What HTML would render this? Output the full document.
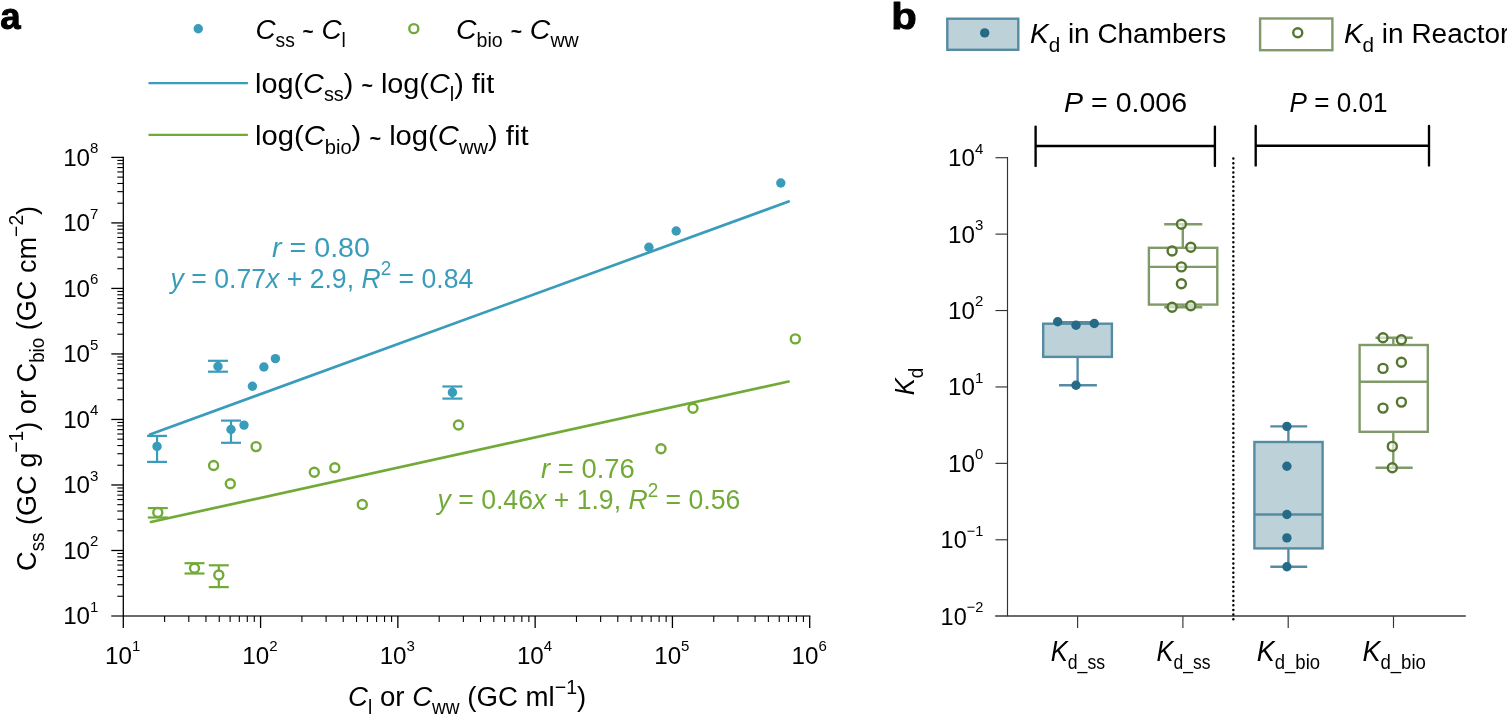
<!DOCTYPE html>
<html lang="en">
<head>
<meta charset="utf-8">
<title>Figure: concentration correlations and Kd box plots</title>
<style>
html,body{margin:0;padding:0;background:#fff;}
body{width:1507px;height:715px;overflow:hidden;}
svg{display:block;font-family:'Liberation Sans', sans-serif;}
</style>
</head>
<body>
<svg width="1507" height="715" viewBox="0 0 1507 715" role="img" aria-label="Figure panels a and b">
<!-- panel a axes -->
<line x1="111.30" y1="616.00" x2="810.35" y2="616.00" stroke="#6b6b6b" stroke-width="1.80"/>
<line x1="123.30" y1="156.75" x2="123.30" y2="628.00" stroke="#000" stroke-width="1.30"/>
<line x1="117.30" y1="596.28" x2="123.30" y2="596.28" stroke="#000" stroke-width="1.10"/>
<line x1="117.30" y1="584.74" x2="123.30" y2="584.74" stroke="#000" stroke-width="1.10"/>
<line x1="117.30" y1="576.56" x2="123.30" y2="576.56" stroke="#000" stroke-width="1.10"/>
<line x1="117.30" y1="570.21" x2="123.30" y2="570.21" stroke="#000" stroke-width="1.10"/>
<line x1="117.30" y1="565.02" x2="123.30" y2="565.02" stroke="#000" stroke-width="1.10"/>
<line x1="117.30" y1="560.63" x2="123.30" y2="560.63" stroke="#000" stroke-width="1.10"/>
<line x1="117.30" y1="556.83" x2="123.30" y2="556.83" stroke="#000" stroke-width="1.10"/>
<line x1="117.30" y1="553.48" x2="123.30" y2="553.48" stroke="#000" stroke-width="1.10"/>
<line x1="111.30" y1="550.49" x2="123.30" y2="550.49" stroke="#000" stroke-width="1.30"/>
<line x1="117.30" y1="530.76" x2="123.30" y2="530.76" stroke="#000" stroke-width="1.10"/>
<line x1="117.30" y1="519.23" x2="123.30" y2="519.23" stroke="#000" stroke-width="1.10"/>
<line x1="117.30" y1="511.04" x2="123.30" y2="511.04" stroke="#000" stroke-width="1.10"/>
<line x1="117.30" y1="504.69" x2="123.30" y2="504.69" stroke="#000" stroke-width="1.10"/>
<line x1="117.30" y1="499.51" x2="123.30" y2="499.51" stroke="#000" stroke-width="1.10"/>
<line x1="117.30" y1="495.12" x2="123.30" y2="495.12" stroke="#000" stroke-width="1.10"/>
<line x1="117.30" y1="491.32" x2="123.30" y2="491.32" stroke="#000" stroke-width="1.10"/>
<line x1="117.30" y1="487.97" x2="123.30" y2="487.97" stroke="#000" stroke-width="1.10"/>
<line x1="111.30" y1="484.97" x2="123.30" y2="484.97" stroke="#000" stroke-width="1.30"/>
<line x1="117.30" y1="465.25" x2="123.30" y2="465.25" stroke="#000" stroke-width="1.10"/>
<line x1="117.30" y1="453.71" x2="123.30" y2="453.71" stroke="#000" stroke-width="1.10"/>
<line x1="117.30" y1="445.53" x2="123.30" y2="445.53" stroke="#000" stroke-width="1.10"/>
<line x1="117.30" y1="439.18" x2="123.30" y2="439.18" stroke="#000" stroke-width="1.10"/>
<line x1="117.30" y1="433.99" x2="123.30" y2="433.99" stroke="#000" stroke-width="1.10"/>
<line x1="117.30" y1="429.61" x2="123.30" y2="429.61" stroke="#000" stroke-width="1.10"/>
<line x1="117.30" y1="425.81" x2="123.30" y2="425.81" stroke="#000" stroke-width="1.10"/>
<line x1="117.30" y1="422.45" x2="123.30" y2="422.45" stroke="#000" stroke-width="1.10"/>
<line x1="111.30" y1="419.46" x2="123.30" y2="419.46" stroke="#000" stroke-width="1.30"/>
<line x1="117.30" y1="399.74" x2="123.30" y2="399.74" stroke="#000" stroke-width="1.10"/>
<line x1="117.30" y1="388.20" x2="123.30" y2="388.20" stroke="#000" stroke-width="1.10"/>
<line x1="117.30" y1="380.01" x2="123.30" y2="380.01" stroke="#000" stroke-width="1.10"/>
<line x1="117.30" y1="373.66" x2="123.30" y2="373.66" stroke="#000" stroke-width="1.10"/>
<line x1="117.30" y1="368.48" x2="123.30" y2="368.48" stroke="#000" stroke-width="1.10"/>
<line x1="117.30" y1="364.09" x2="123.30" y2="364.09" stroke="#000" stroke-width="1.10"/>
<line x1="117.30" y1="360.29" x2="123.30" y2="360.29" stroke="#000" stroke-width="1.10"/>
<line x1="117.30" y1="356.94" x2="123.30" y2="356.94" stroke="#000" stroke-width="1.10"/>
<line x1="111.30" y1="353.94" x2="123.30" y2="353.94" stroke="#000" stroke-width="1.30"/>
<line x1="117.30" y1="334.22" x2="123.30" y2="334.22" stroke="#000" stroke-width="1.10"/>
<line x1="117.30" y1="322.68" x2="123.30" y2="322.68" stroke="#000" stroke-width="1.10"/>
<line x1="117.30" y1="314.50" x2="123.30" y2="314.50" stroke="#000" stroke-width="1.10"/>
<line x1="117.30" y1="308.15" x2="123.30" y2="308.15" stroke="#000" stroke-width="1.10"/>
<line x1="117.30" y1="302.96" x2="123.30" y2="302.96" stroke="#000" stroke-width="1.10"/>
<line x1="117.30" y1="298.58" x2="123.30" y2="298.58" stroke="#000" stroke-width="1.10"/>
<line x1="117.30" y1="294.78" x2="123.30" y2="294.78" stroke="#000" stroke-width="1.10"/>
<line x1="117.30" y1="291.43" x2="123.30" y2="291.43" stroke="#000" stroke-width="1.10"/>
<line x1="111.30" y1="288.43" x2="123.30" y2="288.43" stroke="#000" stroke-width="1.30"/>
<line x1="117.30" y1="268.71" x2="123.30" y2="268.71" stroke="#000" stroke-width="1.10"/>
<line x1="117.30" y1="257.17" x2="123.30" y2="257.17" stroke="#000" stroke-width="1.10"/>
<line x1="117.30" y1="248.99" x2="123.30" y2="248.99" stroke="#000" stroke-width="1.10"/>
<line x1="117.30" y1="242.64" x2="123.30" y2="242.64" stroke="#000" stroke-width="1.10"/>
<line x1="117.30" y1="237.45" x2="123.30" y2="237.45" stroke="#000" stroke-width="1.10"/>
<line x1="117.30" y1="233.06" x2="123.30" y2="233.06" stroke="#000" stroke-width="1.10"/>
<line x1="117.30" y1="229.26" x2="123.30" y2="229.26" stroke="#000" stroke-width="1.10"/>
<line x1="117.30" y1="225.91" x2="123.30" y2="225.91" stroke="#000" stroke-width="1.10"/>
<line x1="111.30" y1="222.91" x2="123.30" y2="222.91" stroke="#000" stroke-width="1.30"/>
<line x1="117.30" y1="203.19" x2="123.30" y2="203.19" stroke="#000" stroke-width="1.10"/>
<line x1="117.30" y1="191.66" x2="123.30" y2="191.66" stroke="#000" stroke-width="1.10"/>
<line x1="117.30" y1="183.47" x2="123.30" y2="183.47" stroke="#000" stroke-width="1.10"/>
<line x1="117.30" y1="177.12" x2="123.30" y2="177.12" stroke="#000" stroke-width="1.10"/>
<line x1="117.30" y1="171.93" x2="123.30" y2="171.93" stroke="#000" stroke-width="1.10"/>
<line x1="117.30" y1="167.55" x2="123.30" y2="167.55" stroke="#000" stroke-width="1.10"/>
<line x1="117.30" y1="163.75" x2="123.30" y2="163.75" stroke="#000" stroke-width="1.10"/>
<line x1="117.30" y1="160.40" x2="123.30" y2="160.40" stroke="#000" stroke-width="1.10"/>
<line x1="111.30" y1="157.40" x2="123.30" y2="157.40" stroke="#000" stroke-width="1.30"/>
<line x1="164.63" y1="616.00" x2="164.63" y2="622.00" stroke="#000" stroke-width="1.10"/>
<line x1="188.80" y1="616.00" x2="188.80" y2="622.00" stroke="#000" stroke-width="1.10"/>
<line x1="205.95" y1="616.00" x2="205.95" y2="622.00" stroke="#000" stroke-width="1.10"/>
<line x1="219.25" y1="616.00" x2="219.25" y2="622.00" stroke="#000" stroke-width="1.10"/>
<line x1="230.12" y1="616.00" x2="230.12" y2="622.00" stroke="#000" stroke-width="1.10"/>
<line x1="239.32" y1="616.00" x2="239.32" y2="622.00" stroke="#000" stroke-width="1.10"/>
<line x1="247.28" y1="616.00" x2="247.28" y2="622.00" stroke="#000" stroke-width="1.10"/>
<line x1="254.30" y1="616.00" x2="254.30" y2="622.00" stroke="#000" stroke-width="1.10"/>
<line x1="260.58" y1="616.00" x2="260.58" y2="628.00" stroke="#000" stroke-width="1.30"/>
<line x1="301.91" y1="616.00" x2="301.91" y2="622.00" stroke="#000" stroke-width="1.10"/>
<line x1="326.08" y1="616.00" x2="326.08" y2="622.00" stroke="#000" stroke-width="1.10"/>
<line x1="343.23" y1="616.00" x2="343.23" y2="622.00" stroke="#000" stroke-width="1.10"/>
<line x1="356.53" y1="616.00" x2="356.53" y2="622.00" stroke="#000" stroke-width="1.10"/>
<line x1="367.40" y1="616.00" x2="367.40" y2="622.00" stroke="#000" stroke-width="1.10"/>
<line x1="376.60" y1="616.00" x2="376.60" y2="622.00" stroke="#000" stroke-width="1.10"/>
<line x1="384.56" y1="616.00" x2="384.56" y2="622.00" stroke="#000" stroke-width="1.10"/>
<line x1="391.58" y1="616.00" x2="391.58" y2="622.00" stroke="#000" stroke-width="1.10"/>
<line x1="397.86" y1="616.00" x2="397.86" y2="628.00" stroke="#000" stroke-width="1.30"/>
<line x1="439.19" y1="616.00" x2="439.19" y2="622.00" stroke="#000" stroke-width="1.10"/>
<line x1="463.36" y1="616.00" x2="463.36" y2="622.00" stroke="#000" stroke-width="1.10"/>
<line x1="480.51" y1="616.00" x2="480.51" y2="622.00" stroke="#000" stroke-width="1.10"/>
<line x1="493.81" y1="616.00" x2="493.81" y2="622.00" stroke="#000" stroke-width="1.10"/>
<line x1="504.68" y1="616.00" x2="504.68" y2="622.00" stroke="#000" stroke-width="1.10"/>
<line x1="513.88" y1="616.00" x2="513.88" y2="622.00" stroke="#000" stroke-width="1.10"/>
<line x1="521.84" y1="616.00" x2="521.84" y2="622.00" stroke="#000" stroke-width="1.10"/>
<line x1="528.86" y1="616.00" x2="528.86" y2="622.00" stroke="#000" stroke-width="1.10"/>
<line x1="535.14" y1="616.00" x2="535.14" y2="628.00" stroke="#000" stroke-width="1.30"/>
<line x1="576.47" y1="616.00" x2="576.47" y2="622.00" stroke="#000" stroke-width="1.10"/>
<line x1="600.64" y1="616.00" x2="600.64" y2="622.00" stroke="#000" stroke-width="1.10"/>
<line x1="617.79" y1="616.00" x2="617.79" y2="622.00" stroke="#000" stroke-width="1.10"/>
<line x1="631.09" y1="616.00" x2="631.09" y2="622.00" stroke="#000" stroke-width="1.10"/>
<line x1="641.96" y1="616.00" x2="641.96" y2="622.00" stroke="#000" stroke-width="1.10"/>
<line x1="651.16" y1="616.00" x2="651.16" y2="622.00" stroke="#000" stroke-width="1.10"/>
<line x1="659.12" y1="616.00" x2="659.12" y2="622.00" stroke="#000" stroke-width="1.10"/>
<line x1="666.14" y1="616.00" x2="666.14" y2="622.00" stroke="#000" stroke-width="1.10"/>
<line x1="672.42" y1="616.00" x2="672.42" y2="628.00" stroke="#000" stroke-width="1.30"/>
<line x1="713.75" y1="616.00" x2="713.75" y2="622.00" stroke="#000" stroke-width="1.10"/>
<line x1="737.92" y1="616.00" x2="737.92" y2="622.00" stroke="#000" stroke-width="1.10"/>
<line x1="755.07" y1="616.00" x2="755.07" y2="622.00" stroke="#000" stroke-width="1.10"/>
<line x1="768.37" y1="616.00" x2="768.37" y2="622.00" stroke="#000" stroke-width="1.10"/>
<line x1="779.24" y1="616.00" x2="779.24" y2="622.00" stroke="#000" stroke-width="1.10"/>
<line x1="788.44" y1="616.00" x2="788.44" y2="622.00" stroke="#000" stroke-width="1.10"/>
<line x1="796.40" y1="616.00" x2="796.40" y2="622.00" stroke="#000" stroke-width="1.10"/>
<line x1="803.42" y1="616.00" x2="803.42" y2="622.00" stroke="#000" stroke-width="1.10"/>
<line x1="809.70" y1="616.00" x2="809.70" y2="628.00" stroke="#000" stroke-width="1.30"/>
<!-- fit lines -->
<line x1="149.90" y1="434.40" x2="788.60" y2="201.50" stroke="#3a9cbb" stroke-width="2.70" stroke-linecap="round"/>
<line x1="150.90" y1="522.00" x2="788.60" y2="381.50" stroke="#72aa38" stroke-width="2.70" stroke-linecap="round"/>
<!-- blue points -->
<line x1="218.00" y1="360.80" x2="218.00" y2="371.70" stroke="#3a9cbb" stroke-width="2.20"/>
<line x1="208.00" y1="360.80" x2="228.00" y2="360.80" stroke="#3a9cbb" stroke-width="2.20"/>
<line x1="208.00" y1="371.70" x2="228.00" y2="371.70" stroke="#3a9cbb" stroke-width="2.20"/>
<circle cx="218.00" cy="366.40" r="4.70" fill="#3a9cbb"/>
<line x1="231.00" y1="420.60" x2="231.00" y2="442.80" stroke="#3a9cbb" stroke-width="2.20"/>
<line x1="221.00" y1="420.60" x2="241.00" y2="420.60" stroke="#3a9cbb" stroke-width="2.20"/>
<line x1="221.00" y1="442.80" x2="241.00" y2="442.80" stroke="#3a9cbb" stroke-width="2.20"/>
<circle cx="231.00" cy="429.50" r="4.70" fill="#3a9cbb"/>
<line x1="157.05" y1="435.90" x2="157.05" y2="461.90" stroke="#3a9cbb" stroke-width="2.20"/>
<line x1="147.05" y1="435.90" x2="167.05" y2="435.90" stroke="#3a9cbb" stroke-width="2.20"/>
<line x1="147.05" y1="461.90" x2="167.05" y2="461.90" stroke="#3a9cbb" stroke-width="2.20"/>
<circle cx="157.05" cy="446.40" r="4.70" fill="#3a9cbb"/>
<line x1="452.40" y1="386.50" x2="452.40" y2="398.60" stroke="#3a9cbb" stroke-width="2.20"/>
<line x1="442.40" y1="386.50" x2="462.40" y2="386.50" stroke="#3a9cbb" stroke-width="2.20"/>
<line x1="442.40" y1="398.60" x2="462.40" y2="398.60" stroke="#3a9cbb" stroke-width="2.20"/>
<circle cx="452.40" cy="392.40" r="4.70" fill="#3a9cbb"/>
<circle cx="252.40" cy="386.30" r="4.70" fill="#3a9cbb"/>
<circle cx="263.90" cy="367.00" r="4.70" fill="#3a9cbb"/>
<circle cx="275.40" cy="358.60" r="4.70" fill="#3a9cbb"/>
<circle cx="244.00" cy="425.10" r="4.70" fill="#3a9cbb"/>
<circle cx="648.90" cy="247.20" r="4.70" fill="#3a9cbb"/>
<circle cx="676.20" cy="231.00" r="4.70" fill="#3a9cbb"/>
<circle cx="780.80" cy="183.00" r="4.70" fill="#3a9cbb"/>
<!-- green points -->
<line x1="157.80" y1="508.10" x2="157.80" y2="517.50" stroke="#72aa38" stroke-width="2.20"/>
<line x1="147.80" y1="508.10" x2="167.80" y2="508.10" stroke="#72aa38" stroke-width="2.20"/>
<line x1="147.80" y1="517.50" x2="167.80" y2="517.50" stroke="#72aa38" stroke-width="2.20"/>
<circle cx="157.80" cy="512.50" r="4.50" fill="#fff" stroke="#72aa38" stroke-width="2.40"/>
<line x1="194.50" y1="563.20" x2="194.50" y2="573.50" stroke="#72aa38" stroke-width="2.20"/>
<line x1="184.50" y1="563.20" x2="204.50" y2="563.20" stroke="#72aa38" stroke-width="2.20"/>
<line x1="184.50" y1="573.50" x2="204.50" y2="573.50" stroke="#72aa38" stroke-width="2.20"/>
<circle cx="194.50" cy="568.20" r="4.50" fill="#fff" stroke="#72aa38" stroke-width="2.40"/>
<line x1="218.80" y1="565.30" x2="218.80" y2="587.10" stroke="#72aa38" stroke-width="2.20"/>
<line x1="208.80" y1="565.30" x2="228.80" y2="565.30" stroke="#72aa38" stroke-width="2.20"/>
<line x1="208.80" y1="587.10" x2="228.80" y2="587.10" stroke="#72aa38" stroke-width="2.20"/>
<circle cx="218.80" cy="575.00" r="4.50" fill="#fff" stroke="#72aa38" stroke-width="2.40"/>
<circle cx="256.10" cy="446.60" r="4.50" fill="#fff" stroke="#72aa38" stroke-width="2.40"/>
<circle cx="213.60" cy="465.50" r="4.50" fill="#fff" stroke="#72aa38" stroke-width="2.40"/>
<circle cx="230.30" cy="483.80" r="4.50" fill="#fff" stroke="#72aa38" stroke-width="2.40"/>
<circle cx="314.30" cy="472.20" r="4.50" fill="#fff" stroke="#72aa38" stroke-width="2.40"/>
<circle cx="334.80" cy="467.80" r="4.50" fill="#fff" stroke="#72aa38" stroke-width="2.40"/>
<circle cx="362.30" cy="504.50" r="4.50" fill="#fff" stroke="#72aa38" stroke-width="2.40"/>
<circle cx="458.50" cy="425.00" r="4.50" fill="#fff" stroke="#72aa38" stroke-width="2.40"/>
<circle cx="661.00" cy="448.80" r="4.50" fill="#fff" stroke="#72aa38" stroke-width="2.40"/>
<circle cx="693.00" cy="408.30" r="4.50" fill="#fff" stroke="#72aa38" stroke-width="2.40"/>
<circle cx="795.30" cy="338.90" r="4.50" fill="#fff" stroke="#72aa38" stroke-width="2.40"/>
<!-- legend a -->
<circle cx="198.25" cy="28.75" r="4.70" fill="#3a9cbb"/>
<circle cx="413.80" cy="28.65" r="4.50" fill="#fff" stroke="#72aa38" stroke-width="2.40"/>
<line x1="148.50" y1="83.10" x2="247.90" y2="83.10" stroke="#3a9cbb" stroke-width="2.40"/>
<line x1="148.50" y1="134.90" x2="247.90" y2="134.90" stroke="#72aa38" stroke-width="2.40"/>
<!-- panel b axes -->
<line x1="995.20" y1="616.00" x2="1465.80" y2="616.00" stroke="#6b6b6b" stroke-width="1.80"/>
<line x1="1007.50" y1="157.12" x2="1007.50" y2="616.20" stroke="#333333" stroke-width="1.15"/>
<line x1="995.50" y1="157.70" x2="1007.50" y2="157.70" stroke="#333333" stroke-width="1.15"/>
<line x1="995.50" y1="234.12" x2="1007.50" y2="234.12" stroke="#333333" stroke-width="1.15"/>
<line x1="995.50" y1="310.53" x2="1007.50" y2="310.53" stroke="#333333" stroke-width="1.15"/>
<line x1="995.50" y1="386.95" x2="1007.50" y2="386.95" stroke="#333333" stroke-width="1.15"/>
<line x1="995.50" y1="463.37" x2="1007.50" y2="463.37" stroke="#333333" stroke-width="1.15"/>
<line x1="995.50" y1="539.78" x2="1007.50" y2="539.78" stroke="#333333" stroke-width="1.15"/>
<line x1="1077.60" y1="616.20" x2="1077.60" y2="627.90" stroke="#333333" stroke-width="1.15"/>
<line x1="1182.90" y1="616.20" x2="1182.90" y2="627.90" stroke="#333333" stroke-width="1.15"/>
<line x1="1288.20" y1="616.20" x2="1288.20" y2="627.90" stroke="#333333" stroke-width="1.15"/>
<line x1="1393.50" y1="616.20" x2="1393.50" y2="627.90" stroke="#333333" stroke-width="1.15"/>
<!-- dotted divider -->
<line x1="1233.35" y1="158.5" x2="1233.35" y2="620" stroke="#000" stroke-width="2.50" stroke-dasharray="0 4.654" stroke-linecap="round"/>
<!-- brackets -->
<line x1="1035.60" y1="146.00" x2="1214.90" y2="146.00" stroke="#000" stroke-width="2.35"/>
<line x1="1035.60" y1="126.60" x2="1035.60" y2="165.90" stroke="#000" stroke-width="2.35" stroke-linecap="round"/>
<line x1="1214.90" y1="126.60" x2="1214.90" y2="165.90" stroke="#000" stroke-width="2.35" stroke-linecap="round"/>
<line x1="1255.70" y1="145.70" x2="1429.00" y2="145.70" stroke="#000" stroke-width="2.35"/>
<line x1="1255.70" y1="126.00" x2="1255.70" y2="165.40" stroke="#000" stroke-width="2.35" stroke-linecap="round"/>
<line x1="1429.00" y1="126.00" x2="1429.00" y2="165.40" stroke="#000" stroke-width="2.35" stroke-linecap="round"/>
<!-- boxes -->
<line x1="1077.60" y1="322.10" x2="1077.60" y2="323.70" stroke="#558ba3" stroke-width="2.40"/>
<line x1="1077.60" y1="356.90" x2="1077.60" y2="385.30" stroke="#558ba3" stroke-width="2.40"/>
<line x1="1059.00" y1="322.10" x2="1096.90" y2="322.10" stroke="#558ba3" stroke-width="2.40"/>
<line x1="1059.00" y1="385.30" x2="1096.90" y2="385.30" stroke="#558ba3" stroke-width="2.40"/>
<rect x="1043.20" y="323.70" width="68.70" height="33.20" fill="#bdd1d9" stroke="#558ba3" stroke-width="2.40"/>
<circle cx="1057.70" cy="321.80" r="4.70" fill="#256b87"/>
<circle cx="1076.00" cy="325.20" r="4.70" fill="#256b87"/>
<circle cx="1094.30" cy="323.50" r="4.70" fill="#256b87"/>
<circle cx="1076.00" cy="385.30" r="4.70" fill="#256b87"/>
<line x1="1182.80" y1="224.30" x2="1182.80" y2="247.80" stroke="#809a69" stroke-width="2.40"/>
<line x1="1182.80" y1="304.60" x2="1182.80" y2="307.20" stroke="#809a69" stroke-width="2.40"/>
<line x1="1164.20" y1="224.30" x2="1202.30" y2="224.30" stroke="#809a69" stroke-width="2.40"/>
<line x1="1164.20" y1="307.20" x2="1202.30" y2="307.20" stroke="#809a69" stroke-width="2.40"/>
<rect x="1148.90" y="247.80" width="68.40" height="56.80" fill="none" stroke="#809a69" stroke-width="2.40"/>
<line x1="1148.90" y1="266.90" x2="1217.30" y2="266.90" stroke="#809a69" stroke-width="2.40"/>
<circle cx="1181.40" cy="224.30" r="4.50" fill="#fff" fill-opacity="0.6" stroke="#557630" stroke-width="2.40"/>
<circle cx="1172.10" cy="251.00" r="4.50" fill="#fff" fill-opacity="0.6" stroke="#557630" stroke-width="2.40"/>
<circle cx="1190.80" cy="247.20" r="4.50" fill="#fff" fill-opacity="0.6" stroke="#557630" stroke-width="2.40"/>
<circle cx="1181.40" cy="266.90" r="4.50" fill="#fff" fill-opacity="0.6" stroke="#557630" stroke-width="2.40"/>
<circle cx="1181.40" cy="283.70" r="4.50" fill="#fff" fill-opacity="0.6" stroke="#557630" stroke-width="2.40"/>
<circle cx="1172.10" cy="307.20" r="4.50" fill="#fff" fill-opacity="0.6" stroke="#557630" stroke-width="2.40"/>
<circle cx="1190.80" cy="305.80" r="4.50" fill="#fff" fill-opacity="0.6" stroke="#557630" stroke-width="2.40"/>
<line x1="1288.40" y1="426.40" x2="1288.40" y2="442.00" stroke="#558ba3" stroke-width="2.40"/>
<line x1="1288.40" y1="548.40" x2="1288.40" y2="566.80" stroke="#558ba3" stroke-width="2.40"/>
<line x1="1270.30" y1="426.40" x2="1307.20" y2="426.40" stroke="#558ba3" stroke-width="2.40"/>
<line x1="1270.30" y1="566.80" x2="1307.20" y2="566.80" stroke="#558ba3" stroke-width="2.40"/>
<rect x="1254.40" y="442.00" width="68.20" height="106.40" fill="#bdd1d9" stroke="#558ba3" stroke-width="2.40"/>
<line x1="1254.40" y1="514.50" x2="1322.60" y2="514.50" stroke="#558ba3" stroke-width="2.40"/>
<circle cx="1286.90" cy="426.40" r="4.70" fill="#256b87"/>
<circle cx="1286.90" cy="466.20" r="4.70" fill="#256b87"/>
<circle cx="1286.90" cy="514.50" r="4.70" fill="#256b87"/>
<circle cx="1286.90" cy="537.90" r="4.70" fill="#256b87"/>
<circle cx="1286.90" cy="566.80" r="4.70" fill="#256b87"/>
<line x1="1393.30" y1="337.70" x2="1393.30" y2="345.00" stroke="#809a69" stroke-width="2.40"/>
<line x1="1393.30" y1="431.80" x2="1393.30" y2="467.70" stroke="#809a69" stroke-width="2.40"/>
<line x1="1375.50" y1="337.70" x2="1412.70" y2="337.70" stroke="#809a69" stroke-width="2.40"/>
<line x1="1375.50" y1="467.70" x2="1412.70" y2="467.70" stroke="#809a69" stroke-width="2.40"/>
<rect x="1359.60" y="345.00" width="68.20" height="86.80" fill="none" stroke="#809a69" stroke-width="2.40"/>
<line x1="1359.60" y1="381.70" x2="1427.80" y2="381.70" stroke="#809a69" stroke-width="2.40"/>
<circle cx="1383.00" cy="337.70" r="4.50" fill="#fff" fill-opacity="0.6" stroke="#557630" stroke-width="2.40"/>
<circle cx="1401.40" cy="339.70" r="4.50" fill="#fff" fill-opacity="0.6" stroke="#557630" stroke-width="2.40"/>
<circle cx="1401.40" cy="362.30" r="4.50" fill="#fff" fill-opacity="0.6" stroke="#557630" stroke-width="2.40"/>
<circle cx="1383.00" cy="368.40" r="4.50" fill="#fff" fill-opacity="0.6" stroke="#557630" stroke-width="2.40"/>
<circle cx="1401.40" cy="402.10" r="4.50" fill="#fff" fill-opacity="0.6" stroke="#557630" stroke-width="2.40"/>
<circle cx="1383.00" cy="408.10" r="4.50" fill="#fff" fill-opacity="0.6" stroke="#557630" stroke-width="2.40"/>
<circle cx="1392.30" cy="446.40" r="4.50" fill="#fff" fill-opacity="0.6" stroke="#557630" stroke-width="2.40"/>
<circle cx="1392.30" cy="467.70" r="4.50" fill="#fff" fill-opacity="0.6" stroke="#557630" stroke-width="2.40"/>
<!-- legend b -->
<rect x="947.3" y="18.7" width="71.0" height="31.1" fill="#bdd1d9" stroke="#558ba3" stroke-width="2.40"/>
<circle cx="984.70" cy="32.90" r="4.70" fill="#256b87"/>
<rect x="1260.1" y="18.5" width="72.3" height="31.7" fill="none" stroke="#809a69" stroke-width="2.40"/>
<circle cx="1297.76" cy="32.80" r="4.50" fill="#fff" stroke="#557630" stroke-width="2.40"/>
<!-- text -->
<text transform="translate(98.40,624.40)" font-size="24.20" text-anchor="end" fill="#000" xml:space="preserve"><tspan>10</tspan><tspan font-size="15.00" dy="-12.51">1</tspan></text>
<text transform="translate(98.40,558.89)" font-size="24.20" text-anchor="end" fill="#000" xml:space="preserve"><tspan>10</tspan><tspan font-size="15.00" dy="-12.51">2</tspan></text>
<text transform="translate(98.40,493.37)" font-size="24.20" text-anchor="end" fill="#000" xml:space="preserve"><tspan>10</tspan><tspan font-size="15.00" dy="-12.51">3</tspan></text>
<text transform="translate(98.40,427.86)" font-size="24.20" text-anchor="end" fill="#000" xml:space="preserve"><tspan>10</tspan><tspan font-size="15.00" dy="-12.51">4</tspan></text>
<text transform="translate(98.40,362.34)" font-size="24.20" text-anchor="end" fill="#000" xml:space="preserve"><tspan>10</tspan><tspan font-size="15.00" dy="-12.51">5</tspan></text>
<text transform="translate(98.40,296.83)" font-size="24.20" text-anchor="end" fill="#000" xml:space="preserve"><tspan>10</tspan><tspan font-size="15.00" dy="-12.51">6</tspan></text>
<text transform="translate(98.40,231.31)" font-size="24.20" text-anchor="end" fill="#000" xml:space="preserve"><tspan>10</tspan><tspan font-size="15.00" dy="-12.51">7</tspan></text>
<text transform="translate(98.40,165.80)" font-size="24.20" text-anchor="end" fill="#000" xml:space="preserve"><tspan>10</tspan><tspan font-size="15.00" dy="-12.51">8</tspan></text>
<text transform="translate(122.70,663.90)" font-size="24.20" text-anchor="middle" fill="#000" xml:space="preserve"><tspan>10</tspan><tspan font-size="15.00" dy="-12.51">1</tspan></text>
<text transform="translate(259.98,663.90)" font-size="24.20" text-anchor="middle" fill="#000" xml:space="preserve"><tspan>10</tspan><tspan font-size="15.00" dy="-12.51">2</tspan></text>
<text transform="translate(397.26,663.90)" font-size="24.20" text-anchor="middle" fill="#000" xml:space="preserve"><tspan>10</tspan><tspan font-size="15.00" dy="-12.51">3</tspan></text>
<text transform="translate(534.54,663.90)" font-size="24.20" text-anchor="middle" fill="#000" xml:space="preserve"><tspan>10</tspan><tspan font-size="15.00" dy="-12.51">4</tspan></text>
<text transform="translate(671.82,663.90)" font-size="24.20" text-anchor="middle" fill="#000" xml:space="preserve"><tspan>10</tspan><tspan font-size="15.00" dy="-12.51">5</tspan></text>
<text transform="translate(809.10,663.90)" font-size="24.20" text-anchor="middle" fill="#000" xml:space="preserve"><tspan>10</tspan><tspan font-size="15.00" dy="-12.51">6</tspan></text>
<text transform="translate(255.43,38.50) scale(0.9826,1)" font-size="28.40" text-anchor="start" fill="#000" xml:space="preserve"><tspan font-style="italic">C</tspan><tspan font-size="19.60" dy="8.09">ss</tspan><tspan dy="-8.09"> </tspan><tspan font-size="19.31" font-weight="bold" dy="-0.85">~</tspan><tspan dy="0.85"> </tspan><tspan font-style="italic">C</tspan><tspan font-size="19.60" dy="8.09">l</tspan></text>
<text transform="translate(456.00,38.50) scale(1.0017,1)" font-size="28.40" text-anchor="start" fill="#000" xml:space="preserve"><tspan font-style="italic">C</tspan><tspan font-size="19.60" dy="8.09">bio</tspan><tspan dy="-8.09"> </tspan><tspan font-size="19.31" font-weight="bold" dy="-0.85">~</tspan><tspan dy="0.85"> </tspan><tspan font-style="italic">C</tspan><tspan font-size="19.60" dy="8.09">ww</tspan></text>
<text transform="translate(254.97,93.00) scale(1.0158,1)" font-size="28.40" text-anchor="start" fill="#000" xml:space="preserve"><tspan>log(</tspan><tspan font-style="italic">C</tspan><tspan font-size="19.60" dy="8.09">ss</tspan><tspan dy="-8.09">) </tspan><tspan font-size="19.31" font-weight="bold" dy="-0.85">~</tspan><tspan dy="0.85"> log(</tspan><tspan font-style="italic">C</tspan><tspan font-size="19.60" dy="8.09">l</tspan><tspan dy="-8.09">) fit</tspan></text>
<text transform="translate(254.94,145.40) scale(1.0280,1)" font-size="28.40" text-anchor="start" fill="#000" xml:space="preserve"><tspan>log(</tspan><tspan font-style="italic">C</tspan><tspan font-size="19.60" dy="8.09">bio</tspan><tspan dy="-8.09">) </tspan><tspan font-size="19.31" font-weight="bold" dy="-0.85">~</tspan><tspan dy="0.85"> log(</tspan><tspan font-style="italic">C</tspan><tspan font-size="19.60" dy="8.09">ww</tspan><tspan dy="-8.09">) fit</tspan></text>
<text transform="translate(272.00,256.60) scale(1.0094,1)" font-size="28.40" text-anchor="start" fill="#3a9cbb" xml:space="preserve"><tspan font-style="italic">r</tspan><tspan> = 0.80</tspan></text>
<text transform="translate(170.61,287.60) scale(0.9371,1)" font-size="28.40" text-anchor="start" fill="#3a9cbb" xml:space="preserve"><tspan font-style="italic">y</tspan><tspan> = 0.77</tspan><tspan font-style="italic">x</tspan><tspan> + 2.9, </tspan><tspan font-style="italic">R</tspan><tspan font-size="20.16" dy="-12.50">2</tspan><tspan dy="12.50"> = 0.84</tspan></text>
<text transform="translate(541.12,477.80) scale(0.9659,1)" font-size="28.40" text-anchor="start" fill="#72aa38" xml:space="preserve"><tspan font-style="italic">r</tspan><tspan> = 0.76</tspan></text>
<text transform="translate(437.51,509.20) scale(0.9380,1)" font-size="28.40" text-anchor="start" fill="#72aa38" xml:space="preserve"><tspan font-style="italic">y</tspan><tspan> = 0.46</tspan><tspan font-style="italic">x</tspan><tspan> + 1.9, </tspan><tspan font-style="italic">R</tspan><tspan font-size="20.16" dy="-12.50">2</tspan><tspan dy="12.50"> = 0.56</tspan></text>
<text transform="translate(348.04,706.20) scale(0.9725,1)" font-size="28.40" text-anchor="start" fill="#000" xml:space="preserve"><tspan font-style="italic">C</tspan><tspan font-size="19.60" dy="8.09">l</tspan><tspan dy="-8.09"> or </tspan><tspan font-style="italic">C</tspan><tspan font-size="19.60" dy="8.09">ww</tspan><tspan dy="-8.09"> (GC ml</tspan><tspan font-size="20.16" dy="-12.50">−1</tspan><tspan dy="12.50">)</tspan></text>
<text transform="translate(35.80,570.93) rotate(-90) scale(0.9560,1)" font-size="28.40" text-anchor="start" fill="#000" xml:space="preserve"><tspan>C</tspan><tspan font-size="19.60" dy="8.09">ss</tspan><tspan dy="-8.09"> (GC g</tspan><tspan font-size="20.16" dy="-12.50">−1</tspan><tspan dy="12.50">) or </tspan><tspan>C</tspan><tspan font-size="19.60" dy="8.09">bio</tspan><tspan dy="-8.09"> (GC cm</tspan><tspan font-size="20.16" dy="-12.50">−2</tspan><tspan dy="12.50">)</tspan></text>
<text transform="translate(0.21,29.40) scale(0.9762,1)" font-size="37.50" text-anchor="start" fill="#000" font-weight="bold" stroke="#000" stroke-width="1.00" stroke-linejoin="round" xml:space="preserve"><tspan>a</tspan></text>
<text transform="translate(891.17,29.20) scale(1.1139,1)" font-size="37.50" text-anchor="start" fill="#000" font-weight="bold" stroke="#000" stroke-width="1.00" stroke-linejoin="round" xml:space="preserve"><tspan>b</tspan></text>
<text transform="translate(983.30,166.10)" font-size="24.20" text-anchor="end" fill="#000" xml:space="preserve"><tspan>10</tspan><tspan font-size="15.00" dy="-12.51">4</tspan></text>
<text transform="translate(983.30,242.52)" font-size="24.20" text-anchor="end" fill="#000" xml:space="preserve"><tspan>10</tspan><tspan font-size="15.00" dy="-12.51">3</tspan></text>
<text transform="translate(983.30,318.93)" font-size="24.20" text-anchor="end" fill="#000" xml:space="preserve"><tspan>10</tspan><tspan font-size="15.00" dy="-12.51">2</tspan></text>
<text transform="translate(983.30,395.35)" font-size="24.20" text-anchor="end" fill="#000" xml:space="preserve"><tspan>10</tspan><tspan font-size="15.00" dy="-12.51">1</tspan></text>
<text transform="translate(983.30,471.77)" font-size="24.20" text-anchor="end" fill="#000" xml:space="preserve"><tspan>10</tspan><tspan font-size="15.00" dy="-12.51">0</tspan></text>
<text transform="translate(983.30,548.18) scale(0.9700,1)" font-size="24.20" text-anchor="end" fill="#000" xml:space="preserve"><tspan>10</tspan><tspan font-size="15.00" dy="-12.51">−1</tspan></text>
<text transform="translate(983.30,624.60) scale(0.9700,1)" font-size="24.20" text-anchor="end" fill="#000" xml:space="preserve"><tspan>10</tspan><tspan font-size="15.00" dy="-12.51">−2</tspan></text>
<text transform="translate(1064.09,111.70) scale(1.0050,1)" font-size="28.40" text-anchor="start" fill="#000" xml:space="preserve"><tspan font-style="italic">P</tspan><tspan> = 0.006</tspan></text>
<text transform="translate(1289.48,111.70) scale(0.9199,1)" font-size="28.40" text-anchor="start" fill="#000" xml:space="preserve"><tspan font-style="italic">P</tspan><tspan> = 0.01</tspan></text>
<text transform="translate(1030.02,43.40) scale(0.9843,1)" font-size="28.40" text-anchor="start" fill="#000" xml:space="preserve"><tspan font-style="italic">K</tspan><tspan font-size="21.02" dy="8.38">d</tspan><tspan dy="-8.38"> in Chambers</tspan></text>
<text transform="translate(1343.92,43.40) scale(0.9850,1)" font-size="28.40" text-anchor="start" fill="#000" xml:space="preserve"><tspan font-style="italic">K</tspan><tspan font-size="21.02" dy="8.38">d</tspan><tspan dy="-8.38"> in Reactor</tspan></text>
<text transform="translate(1050.74,660.60) scale(0.8639,1)" font-size="29.60" text-anchor="start" fill="#000" xml:space="preserve"><tspan font-style="italic">K</tspan><tspan font-size="20.42" dy="8.14">d_ss</tspan></text>
<text transform="translate(1156.54,660.60) scale(0.8590,1)" font-size="29.60" text-anchor="start" fill="#000" xml:space="preserve"><tspan font-style="italic">K</tspan><tspan font-size="20.42" dy="8.14">d_ss</tspan></text>
<text transform="translate(1256.79,660.60) scale(0.9092,1)" font-size="29.60" text-anchor="start" fill="#000" xml:space="preserve"><tspan font-style="italic">K</tspan><tspan font-size="20.42" dy="8.14">d_bio</tspan></text>
<text transform="translate(1362.39,660.60) scale(0.9122,1)" font-size="29.60" text-anchor="start" fill="#000" xml:space="preserve"><tspan font-style="italic">K</tspan><tspan font-size="20.42" dy="8.14">d_bio</tspan></text>
<text transform="translate(914.30,395.20) rotate(-90) scale(0.8991,1)" font-size="28.40" text-anchor="start" fill="#000" xml:space="preserve"><tspan font-style="italic">K</tspan><tspan font-size="21.02" dy="8.38">d</tspan></text>
</svg>
</body>
</html>
